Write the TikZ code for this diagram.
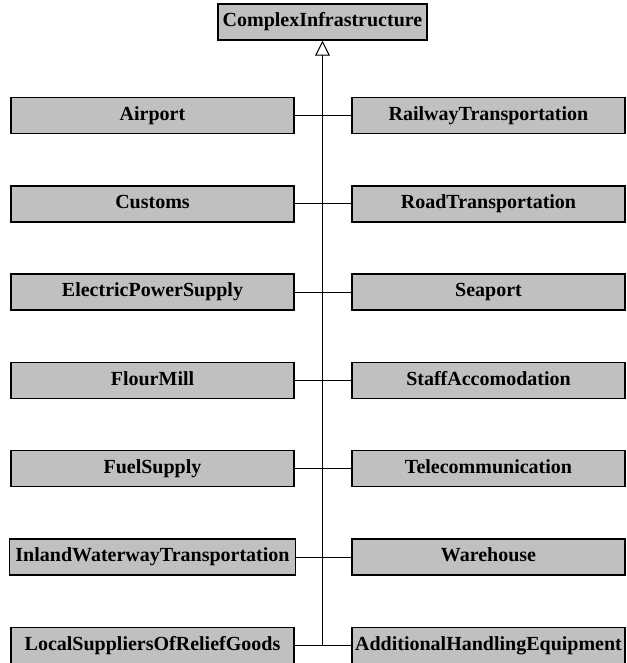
\documentclass[tikz,border=0pt]{standalone}
\usepackage{fontspec}
\setmainfont{Liberation Serif}
\usepackage{tikz}
\usetikzlibrary{arrows.meta}
\usetikzlibrary{positioning}
\definecolor{boxgray}{RGB}{192,192,192}
\tikzstyle{every node}+=[inner sep=0pt]
\tikzstyle{block} = [rectangle, draw, fill=boxgray, line width=1.5pt, font=\fontsize{20}{22}\selectfont\bfseries, text centered, text height=14pt, text depth=4.5pt, minimum height=36pt, minimum width=283pt]
\tikzstyle{rblock} = [block, minimum width=273pt, node distance=336pt]
\tikzstyle{line} = [draw, line width=1pt]
\tikzstyle{inherit} = [draw, line width=1pt, -{Triangle[open, length=15pt, width=15pt, line width=1pt]}]

\begin{document}
\begin{tikzpicture}[x=1pt, y=1pt, node distance=88.3pt]
            \useasboundingbox (0,0) rectangle (626,-663);
            % Place nodes
            \node [block, minimum width=209pt] (complex) at (322.5,-22) {ComplexInfrastructure};
            \node [block] (airport) at (152.5,-115.5) {Airport};
            \node [block, below of=airport] (customs) {Customs};
            \node [block, below of=customs] (electric) {ElectricPowerSupply};
            \node [block, below of=electric] (flour) {FlourMill};
            \node [block, below of=flour] (fuel) {FuelSupply};
            \node [block, below of=fuel, minimum width=286pt] (inland) {InlandWaterwayTransportation};
            \node [block, below of=inland] (local) {LocalSuppliersOfReliefGoods};
            \node [rblock, right of=airport] (railway) {RailwayTransportation};
            \node [rblock, right of=customs] (road) {RoadTransportation};
            \node [rblock, right of=electric] (seaport) {Seaport};
            \node [rblock, right of=flour] (staff) {StaffAccomodation};
            \node [rblock, right of=fuel] (telecom) {Telecommunication};
            \node [rblock, right of=inland] (warehouse) {Warehouse};
            \node [rblock, right of=local] (handling) {AdditionalHandlingEquipment};
            \coordinate (trunk) at (complex.south |- local);
            % Draw edges
            \path [line] (airport) -- (railway);
            \path [line] (customs) -- (road);
            \path [line] (electric) -- (seaport);
            \path [line] (flour) -- (staff);
            \path [line] (fuel) -- (telecom);
            \path [line] (inland) -- (warehouse);
            \path [line] (local) -- (handling);
            \path [inherit] (trunk) -- (complex.south);
          \end{tikzpicture}
\end{document}
